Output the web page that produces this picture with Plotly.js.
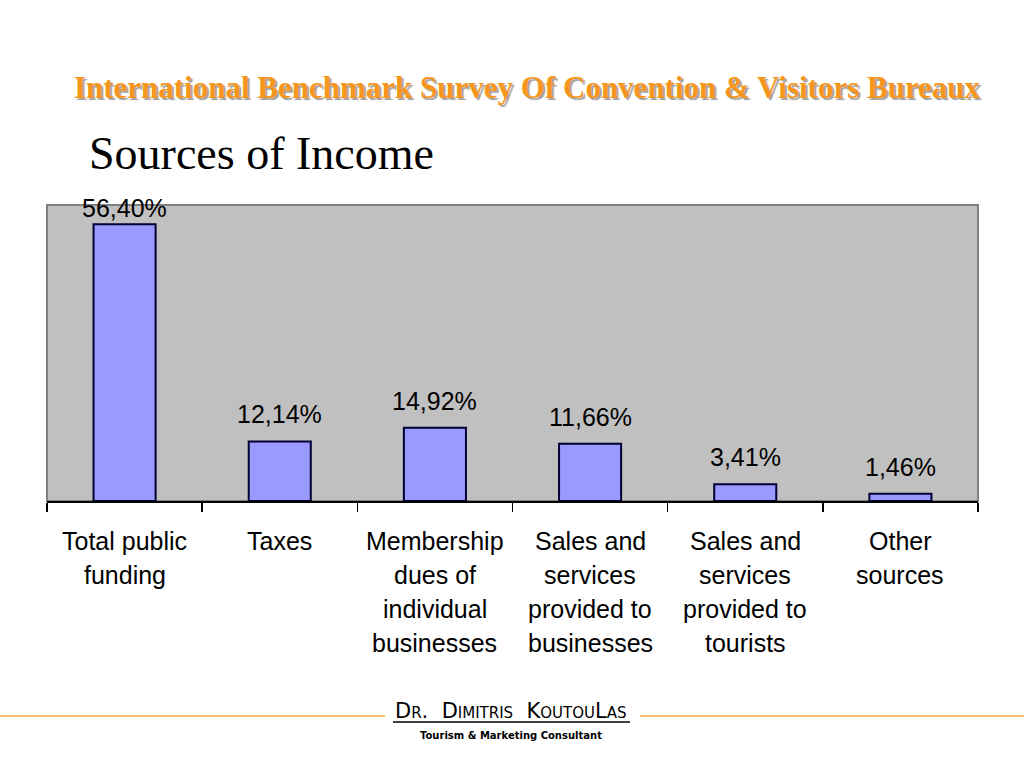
<!DOCTYPE html>
<html>
<head>
<meta charset="utf-8">
<script src="https://cdn.plot.ly/plotly-3.0.1.min.js"></script>
<style>html,body{margin:0;padding:0;background:#fff;}#chart{width:1024px;height:768px;}</style>
</head>
<body>
<div id="chart"></div>
<script>
// ---- data ----
var categories = [
  "Total public funding",
  "Taxes",
  "Membership dues of individual businesses",
  "Sales and services provided to businesses",
  "Sales and services provided to tourists",
  "Other sources"
];
var labelLines = [
  ["Total public", "funding"],
  ["Taxes"],
  ["Membership", "dues of", "individual", "businesses"],
  ["Sales and", "services", "provided to", "businesses"],
  ["Sales and", "services", "provided to", "tourists"],
  ["Other", "sources"]
];
var values = [56.40, 12.14, 14.92, 11.66, 3.41, 1.46];
var mainTitle = "International Benchmark Survey Of Convention & Visitors Bureaux";
var subTitle = "Sources of Income";
var footerName = 'D<span style="font-size:15px">R</span>.  D<span style="font-size:15px">IMITRIS</span>  K<span style="font-size:15px">OUTOU</span>L<span style="font-size:15px">AS</span>';
var footerSub = "Tourism & Marketing Consultant";

// ---- layout geometry ----
var L = 47, R = 978, T = 205, B = 501;
var W = 1024, H = 768;
var yMax = 60.3;
var pxPerUnit = (B - T) / yMax;
function px2x(px) { return (px - L) / (R - L); }
function px2y(py) { return (B - py) / (B - T); }
function fmt(v) { return v.toFixed(2).replace(".", ",") + "%"; }

var annotations = [];
// value labels
values.forEach(function (v, i) {
  var room = (yMax - v) * pxPerUnit - 3;
  annotations.push({
    x: categories[i], y: v, xref: "x", yref: "y",
    text: fmt(v), showarrow: false, yanchor: "middle",
    yshift: Math.min(27, room),
    font: { family: "Liberation Sans, Arial, sans-serif", size: 25, color: "#000" }
  });
});
// category labels
labelLines.forEach(function (lines, i) {
  lines.forEach(function (ln, j) {
    annotations.push({
      x: categories[i], y: 0, xref: "x", yref: "paper",
      text: ln, showarrow: false, yanchor: "middle",
      yshift: -(40 + 34 * j),
      font: { family: "Liberation Sans, Arial, sans-serif", size: 25, color: "#000" }
    });
  });
});
// subtitle
annotations.push({
  x: px2x(87), y: px2y(153), xref: "paper", yref: "paper",
  xanchor: "left", yanchor: "middle", showarrow: false,
  text: subTitle,
  font: { family: "Liberation Serif, Times New Roman, serif", size: 46, color: "#000" }
});
// footer
annotations.push({
  x: px2x(511), y: px2y(711), xref: "paper", yref: "paper",
  xanchor: "center", yanchor: "middle", showarrow: false,
  text: footerName,
  font: { family: "DejaVu Sans, sans-serif", size: 21, color: "#000" }
});
annotations.push({
  x: px2x(511), y: px2y(735), xref: "paper", yref: "paper",
  xanchor: "center", yanchor: "middle", showarrow: false,
  text: "<b>" + footerSub + "</b>",
  font: { family: "DejaVu Sans, sans-serif", size: 10, color: "#000" }
});

var shapes = [
  { type: "rect", xref: "paper", yref: "paper", x0: 0, x1: 1, y0: 0, y1: 1,
    line: { color: "#808080", width: 2 }, layer: "below" },
  { type: "line", xref: "paper", yref: "paper", x0: px2x(0), x1: px2x(385), y0: px2y(716), y1: px2y(716),
    line: { color: "#f4a640", width: 1.5 } },
  { type: "line", xref: "paper", yref: "paper", x0: px2x(640), x1: px2x(1024), y0: px2y(716), y1: px2y(716),
    line: { color: "#f4a640", width: 1.5 } },
  { type: "line", xref: "paper", yref: "paper", x0: px2x(393), x1: px2x(630), y0: px2y(722), y1: px2y(722),
    line: { color: "#000", width: 1.5 } }
];

var trace = {
  type: "bar",
  x: categories,
  y: values,
  width: 0.4,
  marker: { color: "#9999ff", line: { color: "#000033", width: 2 } },
  hoverinfo: "none",
  cliponaxis: false
};

var layout = {
  width: W, height: H,
  margin: { l: L, r: W - R, t: T, b: H - B, pad: 0 },
  paper_bgcolor: "#ffffff",
  plot_bgcolor: "#c0c0c0",
  showlegend: false,
  title: {
    text: "<b>" + mainTitle + "</b>",
    xref: "container", yref: "container",
    x: 527 / W, y: 1 - 87 / H, xanchor: "center", yanchor: "middle",
    font: { family: "Liberation Serif, Times New Roman, serif", size: 31, color: "#f7961c",
            shadow: "2px 2px 1px #a0a0a0" }
  },
  xaxis: {
    type: "category",
    showticklabels: false,
    ticks: "outside", tickson: "boundaries", ticklen: 9, tickwidth: 1.5, tickcolor: "#000",
    showline: true, linecolor: "#000", linewidth: 2,
    showgrid: false, zeroline: false, fixedrange: true
  },
  yaxis: {
    range: [0, yMax],
    showticklabels: false, ticks: "", showgrid: false, zeroline: false,
    showline: false, fixedrange: true
  },
  annotations: annotations,
  shapes: shapes
};

Plotly.newPlot("chart", [trace], layout, { displayModeBar: false, staticPlot: true });
</script>
</body>
</html>
